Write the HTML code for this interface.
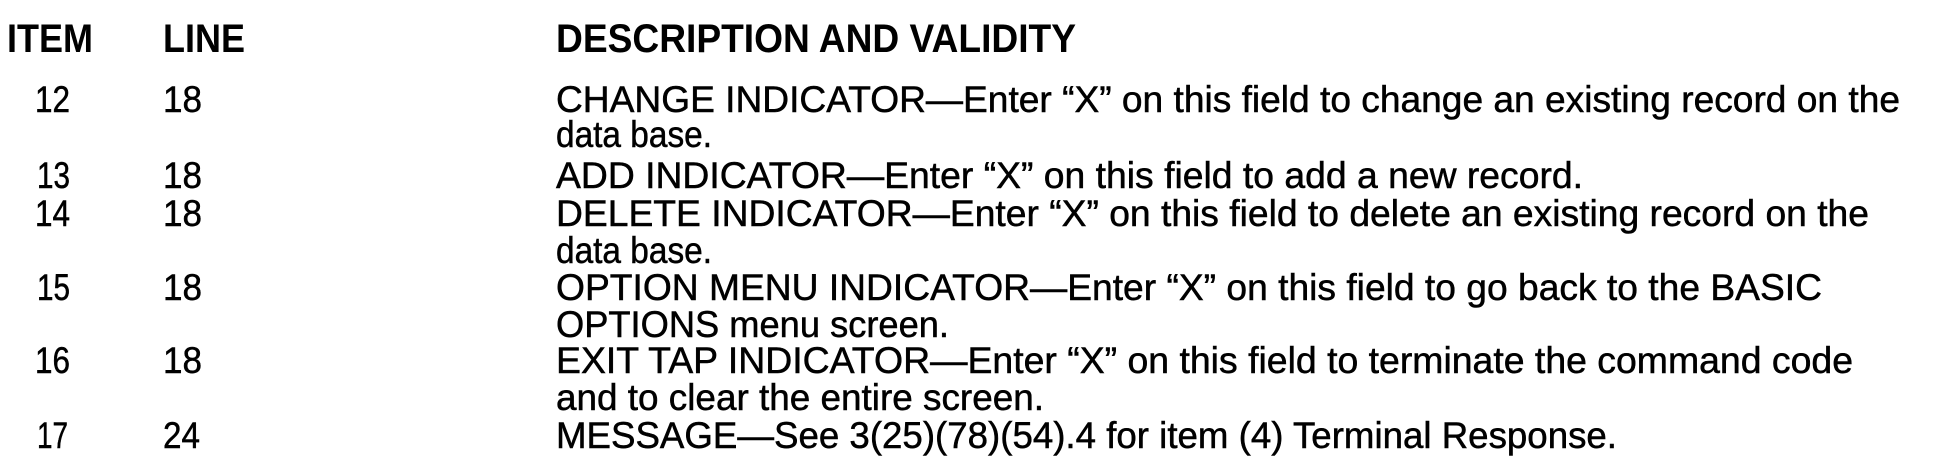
<!DOCTYPE html>
<html><head><meta charset="utf-8"><style>
html,body{margin:0;padding:0;background:#fff;width:1952px;height:476px;overflow:hidden}
text{font-family:"Liberation Sans",Arial,sans-serif;fill:#000}
.h{font-weight:bold;font-size:40px}
.b{font-size:37px;stroke:#000;stroke-width:0.5px}
</style></head><body>
<svg width="1952" height="476" xmlns="http://www.w3.org/2000/svg">
<text class="h" x="7" y="52" textLength="86" lengthAdjust="spacingAndGlyphs">ITEM</text>
<text class="h" x="163" y="52" textLength="82" lengthAdjust="spacingAndGlyphs">LINE</text>
<text class="h" x="556" y="52" textLength="520" lengthAdjust="spacingAndGlyphs">DESCRIPTION AND VALIDITY</text>

<text class="b" x="35" y="112" textLength="35" lengthAdjust="spacingAndGlyphs">12</text>
<text class="b" x="163" y="112" textLength="39" lengthAdjust="spacingAndGlyphs">18</text>
<text class="b" x="556" y="112" textLength="1344" lengthAdjust="spacingAndGlyphs">CHANGE INDICATOR—Enter “X” on this field to change an existing record on the</text>
<text class="b" x="556" y="147" textLength="156" lengthAdjust="spacingAndGlyphs">data base.</text>

<text class="b" x="37" y="188" textLength="33" lengthAdjust="spacingAndGlyphs">13</text>
<text class="b" x="163" y="188" textLength="39" lengthAdjust="spacingAndGlyphs">18</text>
<text class="b" x="556" y="188" textLength="1027" lengthAdjust="spacingAndGlyphs">ADD INDICATOR—Enter “X” on this field to add a new record.</text>

<text class="b" x="35" y="226" textLength="35" lengthAdjust="spacingAndGlyphs">14</text>
<text class="b" x="163" y="226" textLength="39" lengthAdjust="spacingAndGlyphs">18</text>
<text class="b" x="556" y="226" textLength="1313" lengthAdjust="spacingAndGlyphs">DELETE INDICATOR—Enter “X” on this field to delete an existing record on the</text>
<text class="b" x="556" y="263" textLength="156" lengthAdjust="spacingAndGlyphs">data base.</text>

<text class="b" x="37" y="300" textLength="33" lengthAdjust="spacingAndGlyphs">15</text>
<text class="b" x="163" y="300" textLength="39" lengthAdjust="spacingAndGlyphs">18</text>
<text class="b" x="556" y="300" textLength="1266" lengthAdjust="spacingAndGlyphs">OPTION MENU INDICATOR—Enter “X” on this field to go back to the BASIC</text>
<text class="b" x="556" y="337" textLength="393" lengthAdjust="spacingAndGlyphs">OPTIONS menu screen.</text>

<text class="b" x="35" y="373" textLength="35" lengthAdjust="spacingAndGlyphs">16</text>
<text class="b" x="163" y="373" textLength="39" lengthAdjust="spacingAndGlyphs">18</text>
<text class="b" x="556" y="373" textLength="1297" lengthAdjust="spacingAndGlyphs">EXIT TAP INDICATOR—Enter “X” on this field to terminate the command code</text>
<text class="b" x="556" y="410" textLength="488" lengthAdjust="spacingAndGlyphs">and to clear the entire screen.</text>

<text class="b" x="37" y="448" textLength="31" lengthAdjust="spacingAndGlyphs">17</text>
<text class="b" x="163" y="448" textLength="37" lengthAdjust="spacingAndGlyphs">24</text>
<text class="b" x="556" y="448" textLength="1061" lengthAdjust="spacingAndGlyphs">MESSAGE—See 3(25)(78)(54).4 for item (4) Terminal Response.</text>
</svg>
</body></html>
